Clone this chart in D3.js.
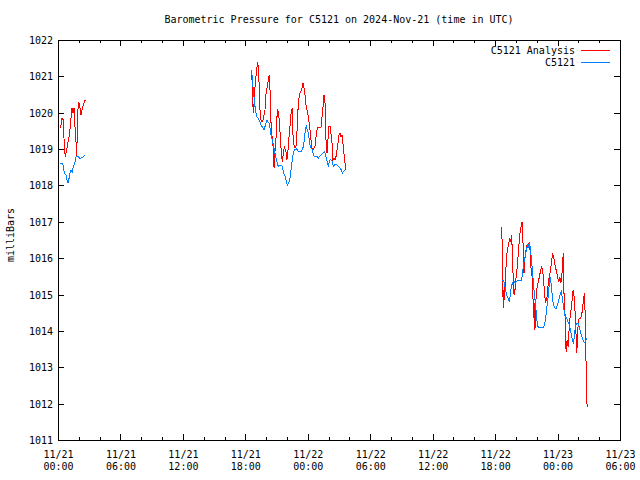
<!DOCTYPE html>
<html><head><meta charset="utf-8">
<script src="https://cdn.jsdelivr.net/npm/d3@7"></script>
<style>body{margin:0;background:#fff}svg{display:block}text{font-family:"DejaVu Sans Mono",monospace;font-size:10px;fill:#000}</style>
</head><body><svg id="c" width="640" height="480"></svg>
<script>
// Hours since 2024-11-21 00:00 UTC; null splits the gaps in the record
const analysisHours = [0.19,0.29,0.38,0.51,0.62,0.70,0.77,0.86,0.96,1.06,1.15,1.25,1.35,1.44,1.54,1.63,1.73,1.80,1.89,1.99,2.11,2.21,2.31,2.43,2.53,2.62,null,
 18.61,18.71,18.77,18.86,18.96,19.09,19.19,19.29,19.34,19.41,19.51,19.60,19.70,19.89,19.99,20.08,20.21,20.30,20.37,20.44,20.50,20.59,20.69,20.76,20.82,20.88,20.98,21.07,21.17,21.27,21.36,21.46,21.55,21.65,21.75,21.84,21.94,22.00,22.10,22.20,22.29,22.39,22.49,22.58,22.68,22.77,22.87,22.97,23.06,23.16,23.25,23.35,23.45,23.54,23.64,23.73,23.83,23.93,24.02,24.12,24.21,24.31,24.41,24.50,24.60,24.69,24.79,24.89,24.98,25.27,25.37,25.47,25.56,25.66,25.75,25.85,25.94,26.04,26.14,26.23,26.33,26.42,26.52,26.62,26.71,26.81,26.90,27.00,27.10,27.19,27.29,27.38,27.48,27.58,27.64,null,
 42.63,42.69,42.73,42.79,42.85,42.92,42.98,43.05,43.11,43.21,43.31,43.40,43.50,43.60,43.65,43.72,43.82,43.91,44.01,44.11,44.20,44.30,44.39,44.49,44.59,44.65,44.71,44.78,44.87,44.97,45.07,45.16,45.26,45.35,45.45,45.55,45.64,45.71,45.77,45.83,45.90,46.00,46.09,46.19,46.29,46.38,46.48,46.58,46.67,46.77,46.86,46.96,47.06,47.15,47.25,47.35,47.44,47.54,47.64,47.73,47.83,47.93,48.02,48.12,48.21,48.31,48.41,48.50,48.56,48.63,48.73,48.82,48.92,49.02,49.11,49.21,49.30,49.40,49.50,49.59,49.66,49.72,49.78,49.85,49.91,50.01,50.10,50.20,50.29,50.39,50.49,50.58,50.65,50.72,50.77,50.84];
const analysisValues = [1019.57,1019.66,1019.85,1019.80,1018.98,1018.79,1018.89,1019.03,1019.20,1019.34,1019.53,1019.86,1020.13,1019.99,1020.13,1019.62,1019.20,1018.79,1019.99,1020.30,1020.13,1019.94,1020.08,1020.21,1020.29,1020.35,null,
 1021.18,1020.30,1019.98,1020.35,1020.85,1021.18,1021.40,1021.13,1020.53,1020.08,1019.80,1019.75,1019.80,1020.08,1020.53,1020.67,1020.90,1021.04,1020.63,1019.98,1019.43,1019.34,1018.98,1018.47,1018.79,1019.07,1019.43,1020.08,1020.03,1019.75,1019.34,1018.88,1018.65,1018.88,1019.07,1018.98,1018.88,1018.70,1018.98,1019.34,1019.62,1019.98,1020.12,1019.40,1019.11,1019.03,1019.08,1019.53,1020.08,1020.41,1020.54,1020.60,1020.68,1020.81,1020.67,1020.49,1020.21,1020.08,1019.94,1019.75,1019.53,1019.25,1019.02,1018.98,1019.02,1019.07,1019.34,1019.53,1019.60,1019.60,1019.89,1020.17,1020.49,1020.26,1019.25,1018.88,1019.25,1019.64,1019.62,1019.43,1019.16,1018.70,1018.75,1018.70,1018.79,1018.98,1019.16,1019.39,1019.43,1019.34,1019.39,1019.16,1018.88,1018.61,1018.43,null,
 1016.87,1016.27,1015.22,1014.62,1015.13,1014.85,1015.49,1015.77,1016.09,1016.27,1016.41,1016.55,1016.45,1016.64,1016.09,1015.58,1014.99,1015.13,1015.45,1015.72,1016.04,1016.41,1016.68,1016.87,1017.00,1016.82,1016.00,1015.58,1016.00,1016.23,1016.36,1016.27,1016.41,1016.23,1015.72,1015.49,1014.90,1014.35,1014.76,1014.03,1014.76,1015.13,1015.26,1015.40,1015.54,1015.68,1015.77,1015.63,1015.35,1014.94,1014.80,1014.85,1015.17,1015.40,1015.54,1015.72,1015.95,1016.13,1016.00,1015.86,1015.72,1015.58,1015.45,1015.35,1015.49,1015.31,1015.49,1015.95,1016.13,1014.85,1014.39,1013.43,1013.75,1013.57,1014.03,1014.39,1014.58,1014.85,1015.13,1014.94,1014.58,1014.48,1013.84,1013.38,1013.84,1014.30,1014.35,1014.35,1014.39,1014.58,1014.85,1015.03,1014.48,1013.48,1012.47,1011.92];

const stationHours = [0.19,0.45,0.51,0.61,0.77,0.86,0.96,1.03,1.15,1.25,1.35,1.44,1.54,1.63,1.73,1.83,1.92,2.11,2.21,2.31,2.43,2.57,null,
 18.61,18.67,18.77,18.86,18.93,19.03,19.12,19.22,19.31,19.41,19.51,19.60,19.70,19.80,19.89,19.99,20.08,20.18,20.30,20.40,20.50,20.59,20.69,20.78,20.88,20.98,21.07,21.17,21.27,21.46,21.55,21.65,21.75,21.84,21.94,22.03,22.13,22.23,22.32,22.42,22.51,22.61,22.71,22.80,22.90,22.99,23.09,23.38,23.47,23.57,23.67,23.76,23.86,23.96,24.05,24.15,24.24,24.34,24.44,24.53,24.63,24.92,25.01,25.11,25.30,25.49,25.59,25.68,25.78,25.88,25.97,26.07,26.17,26.26,26.36,26.45,26.55,26.74,26.84,26.93,27.13,27.22,27.32,27.42,27.51,27.61,null,
 42.63,42.79,42.88,42.98,43.08,43.17,43.27,43.37,43.46,43.56,43.66,43.75,43.85,43.94,44.04,44.23,44.52,44.62,44.71,44.81,44.91,45.00,45.10,45.19,45.29,45.39,45.48,45.58,45.68,45.77,45.87,45.96,46.06,46.16,46.64,46.73,46.83,46.93,47.02,47.12,47.21,47.31,47.41,47.50,47.60,47.70,47.79,47.89,47.98,48.08,48.18,48.27,48.37,48.46,48.56,48.66,48.75,48.85,48.95,49.04,49.14,49.23,49.33,49.43,49.52,49.62,49.71,49.81,50.01,50.10,50.20,50.29,50.39,50.49,50.58,50.68,50.77,50.84];
const stationValues = [1018.61,1018.61,1018.52,1018.33,1018.29,1018.15,1018.06,1018.15,1018.33,1018.43,1018.36,1018.47,1018.56,1018.65,1018.79,1018.79,1018.81,1018.73,1018.75,1018.77,1018.79,1018.82,null,
 1021.18,1020.90,1020.63,1020.35,1020.17,1019.98,1019.89,1019.85,1019.80,1019.75,1019.66,1019.62,1019.57,1019.53,1019.62,1019.71,1019.80,1019.75,1019.71,1019.53,1019.34,1019.25,1019.11,1018.98,1018.84,1018.70,1018.61,1018.52,1018.56,1018.56,1018.52,1018.38,1018.29,1018.24,1018.10,1018.01,1018.06,1018.10,1018.24,1018.52,1018.70,1018.88,1018.98,1018.98,1019.02,1018.98,1018.93,1018.93,1018.98,1019.07,1019.25,1019.53,1019.62,1019.53,1019.43,1019.25,1019.07,1019.02,1018.98,1018.84,1018.79,1018.79,1018.75,1018.79,1018.84,1018.90,1018.93,1018.88,1018.75,1018.65,1018.52,1018.65,1018.72,1018.70,1018.65,1018.52,1018.56,1018.58,1018.56,1018.52,1018.47,1018.43,1018.33,1018.38,1018.41,1018.43,null,
 1015.40,1015.40,1015.31,1015.17,1015.03,1014.94,1014.90,1014.80,1014.99,1015.22,1015.31,1015.35,1015.35,1015.31,1015.35,1015.40,1015.40,1015.54,1015.77,1015.95,1016.09,1016.23,1016.36,1016.32,1016.41,1016.27,1016.00,1015.68,1015.31,1015.03,1014.76,1014.48,1014.16,1014.10,1014.10,1014.16,1014.30,1014.53,1014.76,1014.99,1015.31,1015.49,1015.22,1014.94,1014.71,1014.67,1014.62,1014.62,1014.71,1014.80,1014.94,1015.03,1015.08,1014.90,1014.71,1014.48,1014.39,1014.35,1014.30,1014.21,1014.16,1014.03,1013.89,1013.75,1013.68,1013.84,1014.12,1014.21,1014.21,1014.07,1013.98,1013.89,1013.80,1013.73,1013.68,1013.70,1013.77,1013.80];

const seriesNames = ["C5121 Analysis", "C5121"];
const seriesColors = ["#ff0000", "#0080ff"];
const yTicks = [1011,1012,1013,1014,1015,1016,1017,1018,1019,1020,1021,1022];
const titleText = "Barometric Pressure for C5121 on 2024-Nov-21 (time in UTC)";
const yLabel = "milliBars";
const startTime = Date.UTC(2024,10,21,0,0);
const endTime = Date.UTC(2024,10,23,6,0);

const svg = d3.select("#c");
const L=58,R=620,T=40,B=440;
const x = d3.scaleUtc().domain([new Date(startTime), new Date(endTime)]).range([L,R]);
const y = d3.scaleLinear().domain([1011,1022]).range([B,T]);
const toDate = h => new Date(startTime + h*3600000);

const majorTicks = d3.utcHour.every(6).range(new Date(startTime), new Date(endTime+1));
const minorTicks = d3.utcHour.every(2).range(new Date(startTime), new Date(endTime+1));

svg.append("g").attr("transform",`translate(0,${B})`)
  .call(d3.axisBottom(x).tickValues(minorTicks).tickSize(-3).tickFormat(""))
  .call(g=>g.select(".domain").remove());
svg.append("g").attr("transform",`translate(0,${T})`)
  .call(d3.axisTop(x).tickValues(minorTicks).tickSize(-3).tickFormat(""))
  .call(g=>g.select(".domain").remove());
const fmtD = d3.utcFormat("%m/%d"), fmtT = d3.utcFormat("%H:%M");
const xb = svg.append("g").attr("transform",`translate(0,${B})`)
  .call(d3.axisBottom(x).tickValues(majorTicks).tickSize(-6).tickFormat(""))
  .call(g=>g.select(".domain").remove());
xb.selectAll(".tick").each(function(d){
  const t = d3.select(this).append("text").attr("text-anchor","middle").attr("fill","#000");
  t.append("tspan").attr("x",0).attr("y",18).text(fmtD(d));
  t.append("tspan").attr("x",0).attr("y",30).text(fmtT(d));
});
svg.append("g").attr("transform",`translate(0,${T})`)
  .call(d3.axisTop(x).tickValues(majorTicks).tickSize(-6).tickFormat(""))
  .call(g=>g.select(".domain").remove());
svg.append("g").attr("transform",`translate(${L},0)`)
  .call(d3.axisLeft(y).tickValues(yTicks).tickSize(-6).tickPadding(5).tickFormat(d3.format("d")))
  .call(g=>g.select(".domain").remove())
  .call(g=>g.selectAll("text").attr("dy","0.35em"));
svg.append("g").attr("transform",`translate(${R},0)`)
  .call(d3.axisRight(y).tickValues(yTicks).tickSize(-6).tickFormat(""))
  .call(g=>g.select(".domain").remove());
svg.selectAll(".tick line").attr("stroke","#000").attr("shape-rendering","crispEdges");
svg.selectAll("g").attr("font-family",null).attr("font-size",null);

svg.append("rect").attr("x",L).attr("y",T).attr("width",R-L).attr("height",B-T)
  .attr("fill","none").attr("stroke","#000").attr("stroke-width",1).attr("shape-rendering","crispEdges");

const line = d3.line().defined(d=>d[0]!=null && d[1]!=null).x(d=>x(toDate(d[0]))).y(d=>y(d[1]));
const sets = [[analysisHours, analysisValues],[stationHours, stationValues]];
sets.forEach((s,i)=>{
  const data = s[0].map((h,j)=>[h, s[1][j]]);
  svg.append("path").datum(data).attr("d",line).attr("fill","none")
    .attr("stroke",seriesColors[i]).attr("stroke-width",1).attr("shape-rendering","crispEdges");
});

seriesNames.forEach((n,i)=>{
  const yy = 50 + i*12.5;
  svg.append("text").attr("x",575).attr("y",yy).attr("dy","0.35em").attr("text-anchor","end").text(n);
  svg.append("line").attr("x1",581).attr("x2",610).attr("y1",yy).attr("y2",yy)
    .attr("stroke",seriesColors[i]).attr("stroke-width",1).attr("shape-rendering","crispEdges");
});

svg.append("text").attr("x",339).attr("y",23).attr("text-anchor","middle").text(titleText);
svg.append("text").attr("transform","translate(14,235) rotate(-90)").attr("text-anchor","middle").text(yLabel);
</script></body></html>
